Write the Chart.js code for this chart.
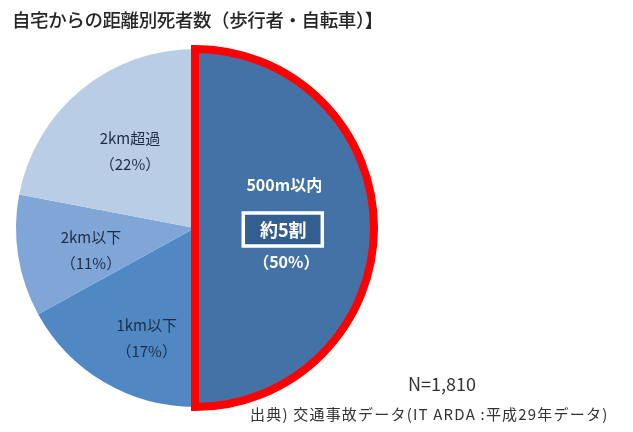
<!DOCTYPE html>
<html>
<head>
<meta charset="utf-8">
<script src="https://cdn.jsdelivr.net/npm/chart.js@4"></script>
<style>
  body { margin:0; background:#fff; font-family:"Noto Sans CJK JP", sans-serif; }
  #wrap { position:relative; width:633px; height:432px; }
  #title { position:absolute; left:12px; top:6px; font-size:18.5px; color:#262626; letter-spacing:-0.4px; font-weight:500; }
  #nval { position:absolute; left:408px; top:370px; font-size:18px; color:#333; }
  #src { position:absolute; left:250px; top:403px; font-size:15px; color:#333; letter-spacing:1.2px; }
  canvas { position:absolute; left:0; top:0; }
</style>
</head>
<body>
<div id="wrap">
  <canvas id="myChart" width="633" height="432"></canvas>
  <div id="title">自宅からの距離別死者数（歩行者・自転車）】</div>
  <div id="nval">N=1,810</div>
  <div id="src">出典) 交通事故データ(IT ARDA :平成29年データ)</div>
</div>
<script>
// drawn clockwise from the bottom, so the 500m slice comes last (its red edge on top)
const labels = ['1km以下', '2km以下', '2km超過', '500m以内'];
const shares = [17, 11, 22, 50];
const pctText = ['（17%）', '（11%）', '（22%）', '（50%）'];
const colors = ['#5088c4', '#7fa6d6', '#b9cde6', '#4272a6'];

// where each label sits: fraction of the radius along the slice middle, plus a nudge
const labelR = [0.64, 0.6, 0.57, 0.51];
const labelNudge = [[10, 11], [2, 4], [0, 1], [0, 0]];

const sliceLabels = {
  id: 'sliceLabels',
  afterDatasetsDraw(chart) {
    const ctx = chart.ctx;
    const meta = chart.getDatasetMeta(0);
    ctx.save();
    ctx.textAlign = 'center';
    ctx.textBaseline = 'middle';
    meta.data.forEach((arc, i) => {
      const p = arc.getProps(['x', 'y', 'startAngle', 'endAngle', 'outerRadius']);
      const mid = (p.startAngle + p.endAngle) / 2;
      const cx = p.x + Math.cos(mid) * p.outerRadius * labelR[i] + labelNudge[i][0];
      const cy = p.y + Math.sin(mid) * p.outerRadius * labelR[i] + labelNudge[i][1];
      if (i == 3) {
        ctx.fillStyle = '#ffffff';
        ctx.font = 'bold 16px "Noto Sans CJK JP"';
        ctx.fillText(labels[i], cx - 2, cy - 43);
        // boxed note
        ctx.fillStyle = '#335f90';
        ctx.fillRect(cx - 43, cy - 15, 79, 33);
        ctx.strokeStyle = '#ffffff';
        ctx.lineWidth = 3.5;
        ctx.strokeRect(cx - 43, cy - 15, 79, 33);
        ctx.fillStyle = '#ffffff';
        ctx.font = 'bold 18px "Noto Sans CJK JP"';
        ctx.fillText('約5割', cx - 3, cy + 2);
        ctx.font = 'bold 16px "Noto Sans CJK JP"';
        ctx.fillText(pctText[i], cx, cy + 34);
      } else {
        ctx.fillStyle = '#1f2b45';
        ctx.font = '15px "Noto Sans CJK JP"';
        ctx.fillText(labels[i], cx, cy - 12);
        ctx.fillText(pctText[i], cx, cy + 14);
      }
    });
    ctx.restore();
  }
};

document.addEventListener('DOMContentLoaded', () => {
  const ctx = document.getElementById('myChart').getContext('2d');
  new Chart(ctx, {
    type: 'pie',
    data: {
      labels: labels,
      datasets: [{
        data: shares,
        backgroundColor: colors,
        borderColor: ['#ffffff', '#ffffff', '#ffffff', '#ff0000'],
        borderWidth: [0, 0, 0, 8],
        borderJoinStyle: 'miter'
      }]
    },
    options: {
      responsive: false,
      animation: false,
      rotation: 180,
      layout: { padding: { left: 12, right: 255, top: 45, bottom: 21 } },
      plugins: {
        legend: { display: false },
        tooltip: { enabled: false }
      }
    },
    plugins: [sliceLabels]
  });
});
</script>
</body>
</html>
